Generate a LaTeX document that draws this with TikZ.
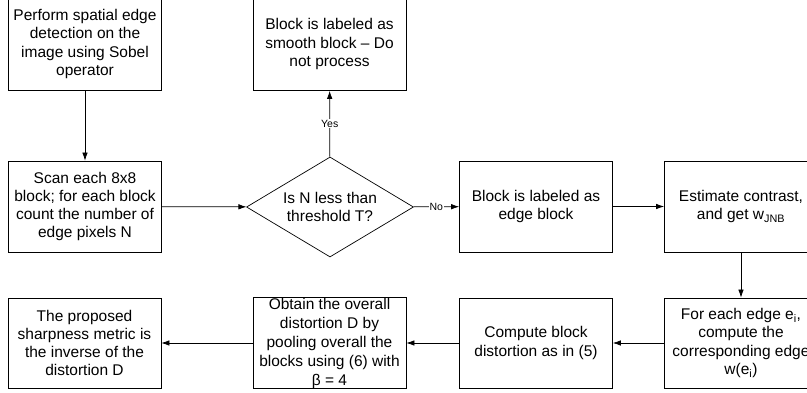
\documentclass[tikz,border=0pt]{standalone}
\usepackage{fontspec}
\setmainfont{Liberation Sans}
\usetikzlibrary{shapes.geometric,arrows.meta}
\begin{document}
\begin{tikzpicture}[x=1pt,y=-1pt,
  box/.style={draw, line width=0.7pt, minimum width=153pt, minimum height=91pt, inner sep=0pt,
    align=center, font=\fontsize{15.5}{18.3}\selectfont},
  arr/.style={draw, line width=0.7pt, -{Latex[length=8pt,width=5.5pt]}},
  lab/.style={fill=white, inner sep=1pt, font=\fontsize{10.5}{12}\selectfont}]
\clip (0,0) rectangle (807,393);
\fill[white] (0,0) rectangle (807,393);
\node[box, minimum height=93pt] (b1) at (85,44) {Perform spatial edge\\detection on the\\image using Sobel\\operator};
\node[box, minimum height=93pt] (btop) at (329.5,44) {Block is labeled as\\smooth block -- Do\\not process};
\node[box] (b2) at (85,206.5) {Scan each 8x8\\block; for each block\\count the number of\\edge pixels N};
\node[diamond, draw, line width=0.7pt, minimum width=167pt, minimum height=100pt, inner sep=0pt] (d) at (330,207) {};
\node[align=center, font=\fontsize{15.5}{18.3}\selectfont] (dt) at (d.center) {Is N less than\\threshold T?};
\node[box] (b3) at (536,206.5) {Block is labeled as\\edge block};
\node[box] (b4) at (741,206.5) {Estimate contrast,\\and get w\textsubscript{JNB}};
\node[box, minimum height=90pt] (b5) at (741,343) {For each edge e\textsubscript{i},\\compute the\\corresponding edge\\w(e\textsubscript{i})};
\node[box, minimum height=90pt] (b6) at (536,343) {Compute block\\distortion as in (5)};
\node[box, minimum height=90pt, font=\fontsize{15.5}{19}\selectfont] (b7) at (329.5,343) {Obtain the overall\\distortion D by\\pooling overall the\\blocks using (6) with\\β = 4};
\node[box, minimum height=90pt] (b8) at (84.5,343) {The proposed\\sharpness metric is\\the inverse of the\\distortion D};
\draw[arr] (b1) -- (b2);
\draw[arr] (b2) -- (d);
\draw[arr] (d) -- node[lab] {Yes} (btop);
\draw[arr] (d) -- node[lab] {No} (b3);
\draw[arr] (b3) -- (b4);
\draw[arr] (b4) -- (b5);
\draw[arr] (b5) -- (b6);
\draw[arr] (b6) -- (b7);
\draw[arr] (b7) -- (b8);
\end{tikzpicture}
\end{document}
